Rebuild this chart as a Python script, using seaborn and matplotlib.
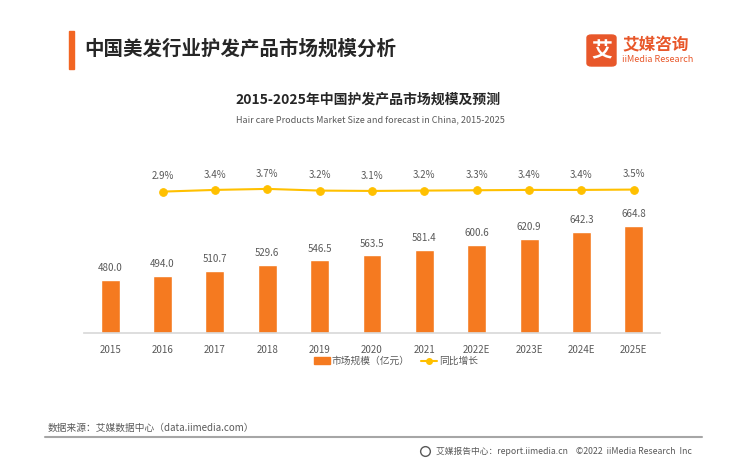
import matplotlib
matplotlib.use("Agg")
import matplotlib.pyplot as plt
from matplotlib.patches import FancyBboxPatch, Rectangle
from matplotlib.lines import Line2D
import seaborn as sns
import pandas as pd

# data
years = ["2015", "2016", "2017", "2018", "2019", "2020", "2021", "2022E", "2023E", "2024E", "2025E"]
market_size = [480.0, 494.0, 510.7, 529.6, 546.5, 563.5, 581.4, 600.6, 620.9, 642.3, 664.8]
# year-on-year growth starts with 2016
growth_years = years[1:]
growth = [2.9, 3.4, 3.7, 3.2, 3.1, 3.2, 3.3, 3.4, 3.4, 3.5]

ORANGE = "#F57A20"
YELLOW = "#FFC000"
GRAY = "#595959"

sns.set_theme(style="white")
plt.rcParams["font.family"] = ["Noto Sans CJK SC", "DejaVu Sans"]

df = pd.DataFrame({"year": years, "size": market_size})
df_g = pd.DataFrame({"year": growth_years, "growth": growth})
df_g["pos"] = [years.index(y) for y in growth_years]

fig = plt.figure(figsize=(7.3, 4.7), dpi=100)
ax = fig.add_axes([84 / 730, 1 - 332.7 / 470, (660 - 84) / 730, 172.7 / 470])

sns.barplot(data=df, x="year", y="size", color=ORANGE, width=0.36, ax=ax, saturation=1)
ax.set_ylim(300.6, 888.6)
ax.set_xlim(-0.5, 10.5)
ax.set_xlabel("")
ax.set_ylabel("")
ax.set_yticks([])
for s in ["top", "left", "right"]:
    ax.spines[s].set_visible(False)
ax.spines["bottom"].set_color("#D9D9D9")
ax.tick_params(axis="x", length=0, labelsize=7, labelcolor=GRAY, pad=9)
for i, v in enumerate(market_size):
    ax.annotate(f"{v:.1f}", (i, v), xytext=(0, 8.6), textcoords="offset points",
                ha="center", va="center", fontsize=7, color=GRAY)

ax2 = ax.twinx()
sns.lineplot(data=df_g, x="pos", y="growth", color=YELLOW, marker="o", markersize=5.5,
             markeredgecolor=YELLOW, linewidth=1.5, ax=ax2)
ax2.set_xlim(-0.5, 10.5)
ax2.set_ylim(-38.6, 12.2)
ax2.set_yticks([])
ax2.set_ylabel("")
for s in ["top", "left", "right", "bottom"]:
    ax2.spines[s].set_visible(False)
for p, g in zip(df_g["pos"], growth):
    ax2.annotate(f"{g}%", (p, g), xytext=(0, 11), textcoords="offset points",
                 ha="center", va="center", fontsize=7, color=GRAY)

# legend
handles = [Rectangle((0, 0), 1, 1, color=ORANGE),
           Line2D([0], [0], color=YELLOW, marker="o", markersize=4, linewidth=1.5)]
fig.legend(handles, ["市场规模（亿元）", "同比增长"], loc="center", bbox_to_anchor=(396 / 730, 1 - 361 / 470),
           ncol=2, frameon=False, fontsize=7, handlelength=1.6, handleheight=0.7,
           columnspacing=1.2, handletextpad=0.2, labelcolor=GRAY)

# header
fig.add_artist(Rectangle((69 / 730, 1 - 69 / 470), 5 / 730, 38 / 470, color="#F26522",
                         transform=fig.transFigure))
fig.text(84 / 730, 1 - 49 / 470, "中国美发行业护发产品市场规模分析", fontsize=14, fontweight="bold",
         color="#262626", va="center")
fig.add_artist(FancyBboxPatch((587 / 730, 1 - 66 / 470), 29 / 730, 31 / 470,
                              boxstyle="round,pad=0,rounding_size=0.006", color="#E8572A",
                              transform=fig.transFigure))
fig.text(601.5 / 730, 1 - 50.5 / 470, "艾", fontsize=15, fontweight="bold", color="white",
         ha="center", va="center")
fig.text(622 / 730, 1 - 45 / 470, "艾媒咨询", fontsize=12, fontweight="bold", color="#E8572A", va="center")
fig.text(622 / 730, 1 - 60 / 470, "iiMedia Research", fontsize=6.5, color="#E8572A", va="center")

# chart title
fig.text(368 / 730, 1 - 100 / 470, "2015-2025年中国护发产品市场规模及预测", fontsize=10,
         fontweight="bold", color="#262626", ha="center", va="center")
fig.text(370 / 730, 1 - 120 / 470, "Hair care Products Market Size and forecast in China, 2015-2025",
         fontsize=6.5, color=GRAY, ha="center", va="center")

# footer
fig.text(48 / 730, 1 - 428 / 470, "数据来源：艾媒数据中心（data.iimedia.com）", fontsize=7,
         color=GRAY, va="center")
fig.add_artist(Line2D([45 / 730, 702 / 730], [1 - 437 / 470, 1 - 437 / 470], color="#A6A6A6",
                      linewidth=1.5, transform=fig.transFigure))
fig.add_artist(Line2D([425 / 730], [1 - 451 / 470], marker="o", markersize=7, markerfacecolor="none",
                      markeredgecolor=GRAY, markeredgewidth=1, transform=fig.transFigure))
fig.text(692 / 730, 1 - 451 / 470, "艾媒报告中心：report.iimedia.cn    ©2022  iiMedia Research  Inc",
         fontsize=6.3, color=GRAY, ha="right", va="center")

plt.savefig("out.png", dpi=100)
